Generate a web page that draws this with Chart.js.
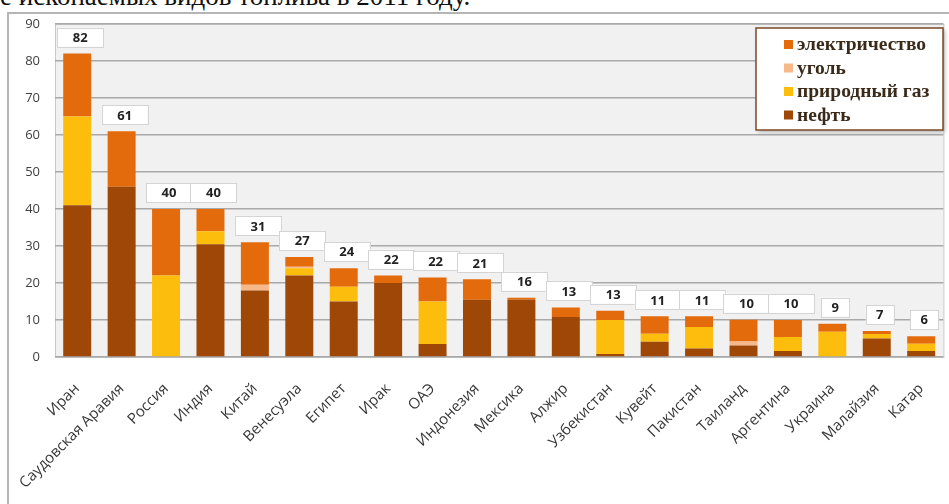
<!DOCTYPE html>
<html>
<head>
<meta charset="utf-8">
<script src="https://cdn.jsdelivr.net/npm/chart.js@4"></script>
<style>
  html, body { margin: 0; padding: 0; background: #fff; overflow: hidden; }
  #wrap { position: relative; width: 949px; height: 504px; }
  #title {
    position: absolute; left: 0; top: -19px; white-space: nowrap;
    font-family: "Liberation Serif", "DejaVu Serif", serif; font-size: 27px; color: #111;
  }
  #frame {
    position: absolute; left: 7px; top: 12px; width: 960px; height: 520px;
    border-left: 2px solid #b5b5b5; border-top: 2px solid #b5b5b5;
  }
  canvas { position: absolute; left: 0; top: 0; }
</style>
</head>
<body>
<div id="wrap">
  <div id="title">е ископаемых видов топлива в 2011 году.</div>
  <div id="frame"></div>
  <canvas id="fuelChart" width="949" height="504"></canvas>
</div>
<script>
const countries = ['Иран', 'Саудовская Аравия', 'Россия', 'Индия', 'Китай', 'Венесуэла', 'Египет',
  'Ирак', 'ОАЭ', 'Индонезия', 'Мексика', 'Алжир', 'Узбекистан', 'Кувейт', 'Пакистан',
  'Таиланд', 'Аргентина', 'Украина', 'Малайзия', 'Катар'];

// subsidies by fuel, bottom to top of each stack
const oil         = [41, 46, 0, 30.5, 18, 22, 15, 20, 3.5, 15.5, 15.5, 10.8, 0.8, 4.1, 2.3, 3.1, 1.6, 0, 5, 1.6];
const gas         = [24, 0, 22, 3.5, 0, 2, 4, 0, 11.5, 0, 0, 0, 9.2, 2.2, 5.8, 0, 3.8, 6.8, 1.2, 2];
const coal        = [0, 0, 0, 0, 1.5, 0.4, 0, 0, 0, 0, 0, 0, 0, 0, 0, 1.1, 0, 0, 0, 0];
const electricity = [17, 15, 18, 6, 11.5, 2.6, 5, 2, 6.5, 5.5, 0.5, 2.6, 2.5, 4.7, 2.9, 5.9, 4.6, 2.2, 0.8, 2];

// totals printed in the boxes above each stack
const totals = [82, 61, 40, 40, 31, 27, 24, 22, 22, 21, 16, 13, 13, 11, 11, 10, 10, 9, 7, 6];

const colors = {
  oil: '#9e4706',
  gas: '#fdbd0d',
  coal: '#f8b98a',
  electricity: '#e46b0c'
};

// light gray plot background
const plotBackground = {
  id: 'plotBackground',
  beforeDraw(chart) {
    const { ctx, chartArea: a } = chart;
    ctx.save();
    ctx.fillStyle = '#f1f1f1';
    ctx.fillRect(a.left, a.top, a.right - a.left, a.bottom - a.top);
    ctx.strokeStyle = '#c8c8c8';
    ctx.lineWidth = 1;
    ctx.strokeRect(a.left + 0.5, a.top + 0.5, a.right - a.left, a.bottom - a.top);
    ctx.restore();
  }
};

// boxed totals above the stacks
const totalLabels = {
  id: 'totalLabels',
  afterDatasetsDraw(chart) {
    const { ctx } = chart;
    const xs = chart.scales.x, ys = chart.scales.y;
    ctx.save();
    ctx.font = 'bold 13px "Open Sans", sans-serif';
    ctx.textAlign = 'center';
    ctx.textBaseline = 'middle';
    totals.forEach((t, i) => {
      const sum = oil[i] + gas[i] + coal[i] + electricity[i];
      const x = xs.getPixelForValue(i) + 3;
      const top = ys.getPixelForValue(sum);
      const w = String(t).length > 1 ? 46 : 28;
      const h = 19;
      const y = top - 7 - h;
      ctx.fillStyle = '#ffffff';
      ctx.fillRect(x - w / 2, y, w, h);
      ctx.strokeStyle = '#d4d4d4';
      ctx.lineWidth = 1;
      ctx.strokeRect(Math.round(x - w / 2) + 0.5, Math.round(y) + 0.5, w, h);
      ctx.fillStyle = '#222';
      ctx.fillText(String(t), x, y + h / 2 + 1);
    });
    ctx.restore();
  }
};

// legend box in the upper right corner
const boxLegend = {
  id: 'boxLegend',
  afterDraw(chart) {
    const { ctx } = chart;
    const items = chart.data.datasets.slice().reverse();
    const x = 756, y = 28, w = 187, h = 102;
    ctx.save();
    ctx.shadowColor = 'rgba(0,0,0,0.25)';
    ctx.shadowBlur = 4;
    ctx.shadowOffsetX = 2;
    ctx.shadowOffsetY = 2;
    ctx.fillStyle = '#ffffff';
    ctx.fillRect(x, y, w, h);
    ctx.shadowColor = 'transparent';
    ctx.strokeStyle = '#7b4a22';
    ctx.lineWidth = 1.5;
    ctx.strokeRect(x, y, w, h);
    ctx.font = 'bold 19.5px "Liberation Serif", "DejaVu Serif", serif';
    ctx.textBaseline = 'middle';
    items.forEach((ds, i) => {
      const cy = y + 16 + i * 23.5;
      ctx.fillStyle = ds.backgroundColor;
      ctx.fillRect(x + 28, cy - 4, 9, 9);
      ctx.fillStyle = '#3a2a1a';
      ctx.fillText(ds.label, x + 41, cy + 1);
    });
    ctx.restore();
  }
};

new Chart(document.getElementById('fuelChart'), {
  type: 'bar',
  data: {
    labels: countries,
    datasets: [
      { label: 'нефть', data: oil, backgroundColor: colors.oil },
      { label: 'природный газ', data: gas, backgroundColor: colors.gas },
      { label: 'уголь', data: coal, backgroundColor: colors.coal },
      { label: 'электричество', data: electricity, backgroundColor: colors.electricity }
    ]
  },
  options: {
    responsive: false,
    animation: false,
    layout: { padding: { top: 24, right: 4, left: 0, bottom: 0 } },
    datasets: { bar: { categoryPercentage: 1, barPercentage: 0.63 } },
    plugins: {
      legend: { display: false },
      tooltip: { enabled: false }
    },
    scales: {
      x: {
        stacked: true,
        grid: { display: false },
        border: { display: false },
        afterFit(scale) { scale.height = 147; },
        ticks: {
          minRotation: 45,
          maxRotation: 45,
          padding: 15,
          color: '#383838',
          font: { family: '"Open Sans", sans-serif', size: 15 }
        }
      },
      y: {
        stacked: true,
        min: 0,
        max: 90,
        afterFit(scale) { scale.width = 55; },
        grid: { color: '#a9a9a9', lineWidth: 1.5, drawTicks: false },
        border: { display: false },
        ticks: {
          stepSize: 10,
          padding: 15,
          color: '#404040',
          font: { family: '"Open Sans", sans-serif', size: 13 }
        }
      }
    }
  },
  plugins: [plotBackground, totalLabels, boxLegend]
});
</script>
</body>
</html>
